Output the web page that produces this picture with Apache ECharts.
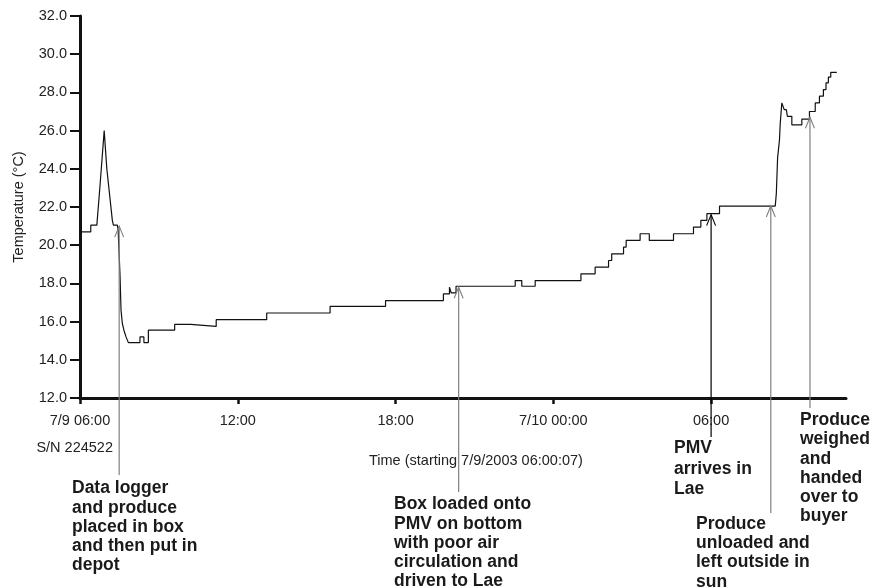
<!DOCTYPE html>
<html><head><meta charset="utf-8">
<script src="https://cdn.jsdelivr.net/npm/echarts@6/dist/echarts.min.js"></script>
<style>html,body{margin:0;padding:0;background:#fff}#c{width:876px;height:587px}</style>
</head><body><div id="c"></div>
<script>
// Hours elapsed since 7/9/2003 06:00:07
const hours = [
 0.00,0.41,0.41,0.64,0.76,0.92,1.02,1.23,1.27,1.42,1.45,1.52,1.56,1.61,1.67,1.75,1.84,
 2.28,2.28,2.43,2.43,2.60,2.60,3.60,3.60,4.21,4.21,5.18,5.18,7.10,7.10,9.51,9.51,
 11.62,11.62,13.82,13.82,14.05,14.05,14.12,14.12,14.30,14.30,16.55,16.55,16.80,16.80,
 17.31,17.31,19.05,19.05,19.59,19.59,20.10,20.10,20.22,20.22,20.67,20.67,20.77,20.77,
 21.30,21.30,21.65,21.65,22.57,22.57,23.33,23.33,23.61,23.61,23.84,23.84,24.32,24.32,
 26.44,26.48,26.53,26.60,26.63,26.69,26.75,26.78,26.86,26.90,27.07,27.07,27.45,27.45,
 27.74,27.74,27.96,27.96,28.12,28.12,28.27,28.27,28.37,28.37,28.46,28.46,28.55,28.55,28.78
];
const temps = [
 20.7,20.7,21.05,21.05,23.1,26.0,24.0,21.3,21.05,21.05,20.8,18.5,16.6,15.9,15.55,15.2,14.9,
 14.9,15.2,15.2,14.9,14.9,15.55,15.55,15.85,15.85,15.75,15.75,16.1,16.1,16.45,16.45,16.8,
 16.8,17.1,17.1,17.45,17.45,17.8,17.8,17.5,17.5,17.85,17.85,18.15,18.15,17.85,
 17.85,18.15,18.15,18.5,18.5,18.85,18.85,19.2,19.2,19.55,19.55,19.9,19.9,20.25,
 20.25,20.6,20.6,20.25,20.25,20.6,20.6,20.95,20.95,21.3,21.3,21.65,21.65,22.05,
 22.05,22.7,24.6,25.5,26.4,27.45,27.45,27.1,27.1,26.75,26.75,26.3,26.3,26.6,
 26.6,27.0,27.0,27.45,27.45,27.8,27.8,28.15,28.15,28.5,28.5,28.8,28.8,29.05,29.05
];
const xTickHours = [0, 6, 12, 18, 24];
const xTickLabels = ['7/9 06:00', '12:00', '18:00', '7/10 00:00', '06:00'];
const yTitle = 'Temperature (°C)';
const xTitle = 'Time (starting 7/9/2003 06:00:07)';
const serialText = 'S/N 224522';
// Annotation arrow tips (hour, temperature) and texts
const annoHours = [1.49, 14.40, 24.00, 26.27, 27.76];
const annoTemps = [21.0, 17.8, 21.6, 22.05, 26.7];
const annoTexts = [
 'Data logger\nand produce\nplaced in box\nand then put in\ndepot',
 'Box loaded onto\nPMV on bottom\nwith poor air\ncirculation and\ndriven to Lae',
 'PMV\narrives in\nLae',
 'Produce\nunloaded and\nleft outside in\nsun',
 'Produce\nweighed\nand\nhanded\nover to\nbuyer'
];

// layout (pixels) kept separate from data
const annoLayout = [
 {lineEnd: 475, tx: 72, ty: 479, lh: 19.2, color: '#808080'},
 {lineEnd: 492, tx: 394, ty: 495, lh: 19.2, color: '#808080'},
 {lineEnd: 437, tx: 674, ty: 438, lh: 20.5, color: '#000'},
 {lineEnd: 513, tx: 696, ty: 514.5, lh: 19.2, color: '#808080'},
 {lineEnd: 408, tx: 800, ty: 410.5, lh: 19.3, color: '#808080'}
];
const FONT = '"Liberation Sans", Arial, Helvetica, sans-serif';

const chart = echarts.init(document.getElementById('c'), null, {renderer: 'canvas'});
const data = hours.map((h, i) => [h, temps[i]]);
chart.setOption({
  animation: false,
  backgroundColor: '#fff',
  grid: {left: 80, right: 30, top: 16, bottom: 189, containLabel: false},
  xAxis: {
    type: 'value', min: 0, max: 29.13, interval: 6,
    axisLine: {show: true, onZero: false, lineStyle: {color: '#111', width: 3}},
    axisTick: {show: true, length: 6, lineStyle: {color: '#111', width: 2.5}, customValues: xTickHours},
    axisLabel: {show: true, margin: 15, color: '#222', fontSize: 14.5, fontFamily: FONT,
      customValues: xTickHours,
      formatter: v => { const i = xTickHours.indexOf(Math.round(v)); return i >= 0 ? xTickLabels[i] : ''; }},
    splitLine: {show: false}
  },
  yAxis: {
    type: 'value', min: 12, max: 32, interval: 2,
    name: yTitle, nameLocation: 'middle', nameGap: 54,
    nameTextStyle: {color: '#222', fontSize: 14.5, fontFamily: FONT},
    axisLine: {show: true, lineStyle: {color: '#111', width: 3}},
    axisTick: {show: true, length: 10, lineStyle: {color: '#111', width: 2}},
    axisLabel: {margin: 13, color: '#222', fontSize: 14.5, fontFamily: FONT, formatter: v => v.toFixed(1)},
    splitLine: {show: false}
  },
  series: [{
    type: 'line', data: data, symbol: 'none', silent: true,
    lineStyle: {color: '#111', width: 1.2}
  }]
});

const g = [];
annoHours.forEach((h, i) => {
  const p = chart.convertToPixel({xAxisIndex: 0, yAxisIndex: 0}, [h, annoTemps[i]]);
  const L = annoLayout[i];
  g.push({type: 'line', shape: {x1: p[0], y1: p[1], x2: p[0], y2: L.lineEnd},
    style: {stroke: L.color, lineWidth: 1.2}, z: 10});
  g.push({type: 'polyline', shape: {points: [[p[0] - 4.5, p[1] + 11], [p[0], p[1]], [p[0] + 4.5, p[1] + 11]]},
    style: {stroke: L.color, lineWidth: 1.1, fill: null}, z: 10});
  g.push({type: 'text', x: L.tx, y: L.ty, z: 10,
    style: {text: annoTexts[i], font: 'bold 17.5px ' + FONT, fill: '#1a1a1a',
      lineHeight: L.lh, textVerticalAlign: 'top', verticalAlign: 'top'}});
});
g.push({type: 'text', x: 113, y: 448, style: {text: serialText, font: '14.5px ' + FONT, fill: '#222',
  align: 'right', verticalAlign: 'middle'}});
g.push({type: 'text', x: 369, y: 461, style: {text: xTitle, font: '14.5px ' + FONT, fill: '#222',
  align: 'left', verticalAlign: 'middle'}});
chart.setOption({graphic: g});
</script>
</body></html>
